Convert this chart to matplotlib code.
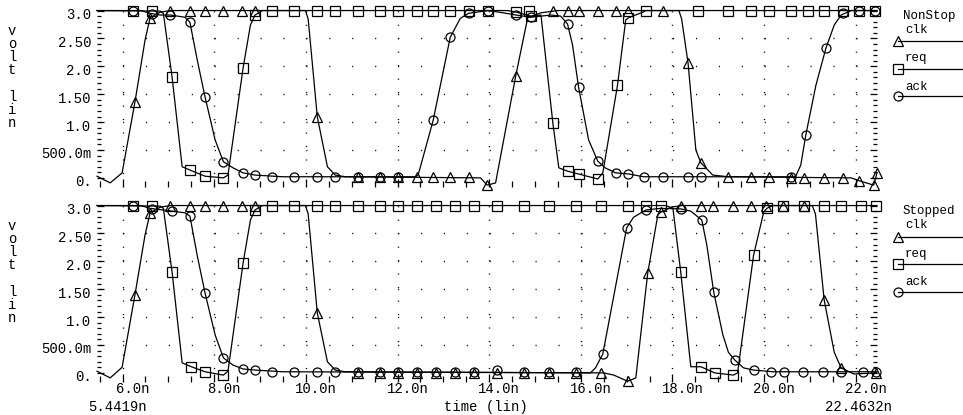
import matplotlib
matplotlib.use("Agg")
import matplotlib.pyplot as plt
from matplotlib.lines import Line2D
from matplotlib.ticker import MultipleLocator, FixedLocator
from matplotlib.transforms import ScaledTranslation
import numpy as np

plt.rcParams['font.family'] = ['Liberation Mono', 'DejaVu Sans Mono']
plt.rcParams['font.size'] = 10

# time in ns, voltage in V
T_START = 5.4419
T_END = 22.4632

# ---- NonStop panel ----
clk_top = [(5.4419, 0.03), (5.73, -0.09), (5.99, 0.09), (6.27, 1.36), (6.49, 2.47), (6.60, 2.87),
           (6.82, 2.97), (7.04, 3.0), (9.99, 3.0), (10.05, 2.85), (10.25, 1.09), (10.47, 0.2),
           (10.64, 0.05), (10.86, 0.02), (13.81, 0.0), (13.96, -0.13), (14.14, -0.09), (14.58, 1.83),
           (14.84, 2.87), (15.13, 2.96), (15.5, 3.0), (18.14, 3.0), (18.2, 2.85), (18.34, 2.06),
           (18.51, 0.5), (18.62, 0.27), (18.88, 0.05), (19.22, 0.02), (21.9, 0.0), (22.07, -0.05),
           (22.39, -0.13), (22.4632, 0.09)]
clk_top_marks = [(6.27, 1.36), (6.60, 2.87), (7.04, 3.0), (7.47, 3.0), (7.80, 3.0), (8.20, 3.0),
                 (8.60, 3.0), (8.89, 3.0), (10.25, 1.09), (11.14, 0.01), (11.62, 0.01), (12.01, 0.01),
                 (12.43, 0.01), (12.78, 0.01), (13.15, 0.01), (13.55, 0.01), (13.96, -0.13),
                 (14.58, 1.83), (15.39, 3.0), (15.71, 3.0), (15.95, 3.0), (16.37, 3.0), (16.76, 3.0),
                 (17.04, 3.0), (17.79, 3.0), (18.34, 2.06), (18.62, 0.27), (19.22, 0.02), (19.71, 0.01),
                 (20.10, 0.01), (20.58, 0.0), (20.87, 0.0), (21.31, 0.0), (21.72, 0.0), (22.07, -0.05),
                 (22.39, -0.13), (22.4632, 0.09)]

req_top = [(5.4419, 3.0), (6.82, 2.99), (6.89, 2.95), (7.08, 1.81), (7.30, 0.2), (7.47, 0.14),
           (7.80, 0.03), (8.20, 0.0), (8.30, 0.05), (8.63, 1.97), (8.79, 2.74), (8.89, 2.92),
           (9.05, 3.0), (14.4, 3.0), (14.6, 2.97), (14.91, 2.9), (15.13, 2.92), (15.39, 0.98),
           (15.52, 0.18), (15.71, 0.12), (15.95, 0.07), (16.37, -0.02), (16.48, 0.09), (16.80, 1.66),
           (16.98, 2.83), (17.04, 2.87), (17.35, 2.97), (17.42, 3.0), (22.4632, 3.0)]
req_top_marks = [(6.23, 3.0), (6.65, 3.0), (7.08, 1.81), (7.47, 0.14), (7.80, 0.03), (8.20, 0.0),
                 (8.63, 1.97), (8.89, 2.92), (9.27, 3.0), (9.73, 3.0), (10.25, 3.0), (10.64, 3.0),
                 (11.14, 3.0), (11.62, 3.0), (12.01, 3.0), (12.43, 3.0), (12.78, 3.0), (13.15, 3.0),
                 (13.55, 3.0), (13.98, 3.0), (14.58, 2.97), (14.86, 3.0), (14.91, 2.9), (15.39, 0.98),
                 (15.71, 0.12), (15.95, 0.07), (16.37, -0.02), (16.80, 1.66), (17.04, 2.87),
                 (17.42, 3.0), (18.55, 3.0), (19.22, 3.0), (19.71, 3.0), (20.10, 3.0), (20.58, 3.0),
                 (20.96, 3.0), (21.31, 3.0), (21.72, 3.0), (22.07, 3.0), (22.42, 3.0)]

ack_top = [(5.4419, 3.0), (6.4, 3.0), (6.60, 2.95), (6.82, 2.92), (7.04, 2.92), (7.36, 2.88),
           (7.47, 2.79), (7.63, 2.11), (7.80, 1.45), (8.02, 0.68), (8.20, 0.29), (8.41, 0.18),
           (8.63, 0.09), (8.89, 0.05), (9.5, 0.02), (12.39, 0.02), (12.45, 0.05), (12.78, 1.04),
           (13.15, 2.52), (13.37, 2.86), (13.55, 2.95), (13.98, 3.0), (14.3, 2.96), (14.58, 2.92),
           (14.91, 2.88), (15.35, 2.92), (15.56, 2.9), (15.71, 2.76), (15.82, 2.38), (15.95, 1.63),
           (16.17, 0.68), (16.37, 0.30), (16.53, 0.18), (16.76, 0.09), (17.04, 0.07), (17.37, 0.02),
           (20.6, 0.02), (20.69, 0.03), (20.80, 0.23), (20.91, 0.77), (21.13, 1.66), (21.35, 2.33),
           (21.53, 2.74), (21.68, 2.92), (21.9, 3.0), (22.4632, 3.0)]
ack_top_marks = [(6.23, 3.0), (6.65, 2.93), (7.04, 2.92), (7.47, 2.79), (7.80, 1.45), (8.20, 0.29),
                 (8.63, 0.09), (8.89, 0.05), (9.27, 0.02), (9.73, 0.02), (10.25, 0.02), (10.64, 0.02),
                 (11.14, 0.02), (11.62, 0.02), (12.01, 0.02), (12.78, 1.04), (13.15, 2.52),
                 (13.55, 2.95), (13.98, 3.0), (14.58, 2.92), (14.91, 2.88), (15.71, 2.76),
                 (15.95, 1.63), (16.37, 0.30), (16.76, 0.09), (17.04, 0.07), (17.37, 0.02),
                 (17.79, 0.02), (18.34, 0.02), (18.62, 0.02), (20.58, 0.02), (20.91, 0.77),
                 (21.35, 2.33), (21.72, 2.95), (22.07, 3.0), (22.42, 3.0)]

# ---- Stopped panel ----
clk_bot = [(5.4419, 0.03), (5.73, -0.09), (5.99, 0.1), (6.27, 1.40), (6.49, 2.47), (6.60, 2.87),
           (6.82, 2.97), (7.04, 3.0), (9.99, 3.0), (10.05, 2.85), (10.25, 1.07), (10.47, 0.2),
           (10.64, 0.05), (10.86, 0.02), (16.5, 0.0), (16.72, -0.04), (17.02, -0.15), (17.2, -0.09),
           (17.46, 1.79), (17.68, 2.83), (17.74, 2.88), (17.97, 2.97), (18.2, 3.0), (21.05, 3.0),
           (21.12, 2.85), (21.31, 1.31), (21.53, 0.37), (21.68, 0.09), (21.96, -0.02), (22.4632, 0.0)]
clk_bot_marks = [(6.27, 1.40), (6.60, 2.87), (7.04, 3.0), (7.47, 3.0), (7.80, 3.0), (8.20, 3.0),
                 (8.60, 3.0), (8.89, 3.0), (10.25, 1.07), (11.14, 0.0), (11.62, 0.0), (12.01, 0.0),
                 (12.43, 0.0), (12.83, 0.0), (13.26, 0.0), (13.66, 0.0), (14.18, 0.0), (14.75, 0.0),
                 (15.30, 0.0), (15.89, 0.0), (16.43, 0.0), (17.02, -0.15), (17.46, 1.79),
                 (17.74, 2.88), (18.18, 3.0), (18.62, 3.0), (18.88, 3.0), (19.33, 3.0), (19.71, 3.0),
                 (20.04, 3.0), (20.41, 3.0), (20.87, 3.0), (21.31, 1.31), (21.68, 0.09), (22.44, 0.0)]

req_bot = [(5.4419, 3.0), (6.82, 2.99), (6.89, 2.95), (7.08, 1.81), (7.30, 0.18), (7.50, 0.11),
           (7.80, 0.02), (8.20, -0.04), (8.30, 0.03), (8.63, 1.97), (8.79, 2.74), (8.89, 2.92),
           (9.05, 3.0), (17.85, 3.0), (18.01, 2.95), (18.18, 1.81), (18.40, 0.11), (18.62, 0.11),
           (18.92, 0.0), (19.33, -0.04), (19.42, 0.0), (19.77, 2.11), (19.99, 2.88), (20.06, 2.95),
           (20.19, 3.0), (22.4632, 3.0)]
req_bot_marks = [(6.23, 3.0), (6.65, 3.0), (7.08, 1.81), (7.50, 0.11), (7.80, 0.02), (8.20, -0.04),
                 (8.63, 1.97), (8.89, 2.92), (9.27, 3.0), (9.73, 3.0), (10.25, 3.0), (10.64, 3.0),
                 (11.14, 3.0), (11.62, 3.0), (12.01, 3.0), (12.43, 3.0), (12.83, 3.0), (13.26, 3.0),
                 (13.66, 3.0), (14.18, 3.0), (14.75, 3.0), (15.30, 3.0), (15.89, 3.0), (16.43, 3.0),
                 (17.02, 3.0), (17.42, 3.0), (17.74, 3.0), (18.18, 1.81), (18.62, 0.11), (18.92, 0.0),
                 (19.33, -0.04), (19.77, 2.11), (20.06, 2.95), (20.41, 3.0), (20.87, 3.0),
                 (21.31, 3.0), (21.68, 3.0), (22.11, 3.0), (22.44, 3.0)]

ack_bot = [(5.4419, 3.0), (6.4, 3.0), (6.60, 2.95), (7.08, 2.9), (7.36, 2.87), (7.47, 2.81),
           (7.63, 2.1), (7.80, 1.43), (8.02, 0.68), (8.20, 0.27), (8.41, 0.14), (8.63, 0.07),
           (8.89, 0.05), (9.5, 0.02), (16.21, 0.0), (16.32, 0.09), (16.48, 0.34), (17.0, 2.6),
           (17.15, 2.79), (17.42, 2.92), (17.74, 2.95), (18.18, 2.94), (18.40, 2.9), (18.64, 2.74),
           (18.75, 2.29), (18.90, 1.45), (19.1, 0.68), (19.22, 0.37), (19.36, 0.23), (19.55, 0.09),
           (19.77, 0.05), (20.2, 0.02), (22.4632, 0.02)]
ack_bot_marks = [(6.23, 3.0), (6.65, 2.93), (7.08, 2.9), (7.47, 2.81), (7.80, 1.43), (8.20, 0.27),
                 (8.63, 0.07), (8.89, 0.05), (9.27, 0.02), (9.73, 0.02), (10.25, 0.02), (10.64, 0.02),
                 (11.14, 0.02), (11.62, 0.02), (12.01, 0.02), (12.43, 0.02), (12.83, 0.02),
                 (13.26, 0.02), (13.66, 0.02), (14.18, 0.05), (14.75, 0.02), (15.30, 0.02),
                 (15.89, 0.02), (16.48, 0.34), (17.0, 2.6), (17.42, 2.92), (18.18, 2.94),
                 (18.64, 2.74), (18.90, 1.45), (19.36, 0.23), (19.77, 0.05), (20.15, 0.02),
                 (20.43, 0.02), (20.85, 0.02), (21.29, 0.02), (21.68, 0.02), (22.15, 0.02),
                 (22.44, 0.02)]

x_ticks = [6, 8, 10, 12, 14, 16, 18, 20, 22]
x_labels = ['6.0n', '8.0n', '10.0n', '12.0n', '14.0n', '16.0n', '18.0n', '20.0n', '22.0n']
y_ticks = [0, 0.5, 1.0, 1.5, 2.0, 2.5, 3.0]
y_labels = ['0.', '500.0m', '1.0', '1.50', '2.0', '2.50', '3.0']
signal_names = ['clk', 'req', 'ack']
markers = ['^', 's', 'o']

W, H = 963, 415
fig = plt.figure(figsize=(W / 100, H / 100), dpi=100)

def fx(px):
    return px / W

def fy(py):
    return 1 - py / H

ax_top = fig.add_axes([fx(97), fy(186.8), 780 / W, 179.6 / H])
ax_bot = fig.add_axes([fx(97), fy(381.8), 780 / W, 179.6 / H])

panels = [
    (ax_top, [(clk_top, clk_top_marks), (req_top, req_top_marks), (ack_top, ack_top_marks)]),
    (ax_bot, [(clk_bot, clk_bot_marks), (req_bot, req_bot_marks), (ack_bot, ack_bot_marks)]),
]

for ax, curves in panels:
    ax.set_xlim(T_START, T_END)
    ax.set_ylim(-0.16, 3.06)
    for s in ax.spines.values():
        s.set_visible(False)

    # dotted grid
    for yv in [0.5, 1.0, 1.5, 2.0, 2.5]:
        ax.axhline(yv, color='k', lw=1.0, ls=(14.6, (0.8, 15.7)), zorder=0)
    for xv in x_ticks:
        ax.axvline(xv, color='k', lw=1.0, ls=(0, (0.8, 8.9)), zorder=0)

    for (curve, marks), mk in zip(curves, markers):
        t = [p[0] for p in curve]
        v = [p[1] for p in curve]
        ax.plot(t, v, color='k', lw=0.9, clip_on=False, zorder=3)
        mt = [p[0] for p in marks]
        mv = [p[1] for p in marks]
        ax.plot(mt, mv, ls='none', marker=mk, ms=6.5, mfc='none', mec='k', mew=0.9,
                clip_on=False, zorder=4)

    ax.set_xticks(x_ticks)
    ax.xaxis.set_minor_locator(MultipleLocator(0.5))
    ax.set_yticks(y_ticks)
    ax.set_yticklabels(y_labels)
    ax.yaxis.set_minor_locator(FixedLocator(np.arange(0, 3.01, 0.1)))
    ax.tick_params(axis='x', which='major', direction='in', length=6, width=0.9, pad=0.5,
                   bottom=True, top=False)
    ax.tick_params(axis='x', which='minor', direction='in', length=4, width=0.9,
                   bottom=True, top=False)
    ax.tick_params(axis='y', which='major', direction='in', length=5, width=0.9, pad=4,
                   left=True, right=True)
    ax.tick_params(axis='y', which='minor', direction='in', length=3, width=0.9,
                   left=True, right=True)
    for lab in ax.get_yticklabels():
        lab.set_transform(lab.get_transform() + ScaledTranslation(0, -3 / 100, fig.dpi_scale_trans))

ax_top.set_xticklabels([])
ax_bot.set_xticklabels(x_labels)
for lab in ax_bot.get_xticklabels():
    lab.set_transform(lab.get_transform() + ScaledTranslation(10 / 100, 0, fig.dpi_scale_trans))

fig.text(fx(486), fy(407), 'time (lin)', ha='center', va='center')
fig.text(fx(117), fy(407), '5.4419n', ha='center', va='center')
fig.text(fx(859), fy(407), '22.4632n', ha='center', va='center')

# stacked y axis label
for yc in [77, 272]:
    fig.text(fx(12), fy(yc), 'v\no\nl\nt\n\nl\ni\nn', ha='center', va='center',
             linespacing=0.92)

# legends on the right
for title, y0 in [('NonStop', 0), ('Stopped', 195)]:
    fig.text(fx(903), fy(16 + y0), title, ha='left', va='center', fontsize=9)
    for i, (name, mk) in enumerate(zip(signal_names, markers)):
        ty = 30 + i * 28.5 + y0
        ly = 41.5 + i * 27.5 + y0
        fig.text(fx(905), fy(ty), name, ha='left', va='center', fontsize=9)
        fig.add_artist(Line2D([fx(898), 1.0], [fy(ly), fy(ly)], color='k', lw=0.9))
        fig.add_artist(Line2D([fx(898)], [fy(ly)], marker=mk, ms=6.5, mfc='none', mec='k',
                              mew=0.9, ls='none'))

fig.savefig('out.png', dpi=100)
